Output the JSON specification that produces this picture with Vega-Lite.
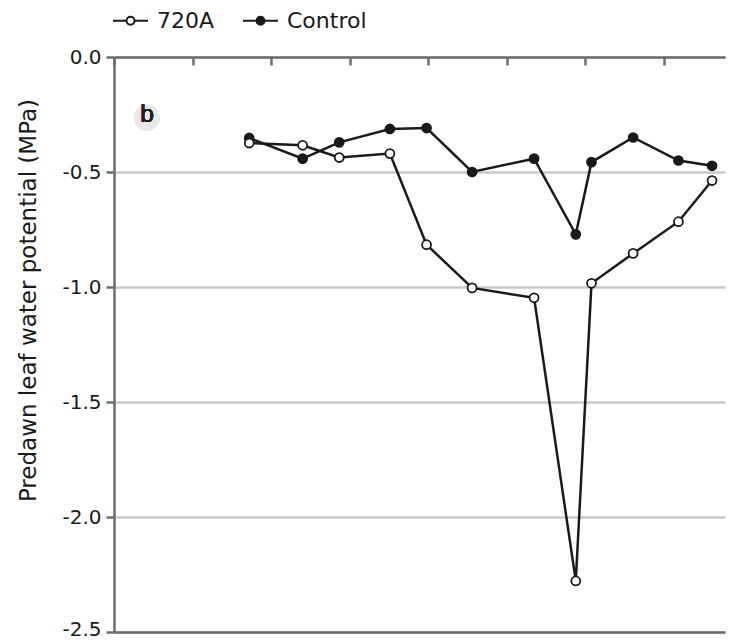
{
  "$schema": "https://vega.github.io/schema/vega-lite/v6.json",
  "width": 611,
  "height": 575,
  "autosize": "none",
  "padding": {"left": 114, "top": 57, "right": 8, "bottom": 9},
  "background": "white",
  "config": {
    "view": {"stroke": null},
    "font": "DejaVu Sans",
    "axis": {"labelFont": "DejaVu Sans", "titleFont": "DejaVu Sans"},
    "legend": {"labelFont": "DejaVu Sans"}
  },
  "data": {
    "values": [
      {"t": 1.722, "psi": -0.352, "series": "Control"},
      {"t": 2.402, "psi": -0.442, "series": "Control"},
      {"t": 2.868, "psi": -0.371, "series": "Control"},
      {"t": 3.513, "psi": -0.313, "series": "Control"},
      {"t": 3.980, "psi": -0.309, "series": "Control"},
      {"t": 4.560, "psi": -0.500, "series": "Control"},
      {"t": 5.349, "psi": -0.442, "series": "Control"},
      {"t": 5.880, "psi": -0.771, "series": "Control"},
      {"t": 6.080, "psi": -0.457, "series": "Control"},
      {"t": 6.610, "psi": -0.350, "series": "Control"},
      {"t": 7.187, "psi": -0.450, "series": "Control"},
      {"t": 7.615, "psi": -0.473, "series": "Control"},
      {"t": 1.722, "psi": -0.374, "series": "720A"},
      {"t": 2.402, "psi": -0.384, "series": "720A"},
      {"t": 2.868, "psi": -0.437, "series": "720A"},
      {"t": 3.513, "psi": -0.420, "series": "720A"},
      {"t": 3.980, "psi": -0.816, "series": "720A"},
      {"t": 4.560, "psi": -1.004, "series": "720A"},
      {"t": 5.349, "psi": -1.047, "series": "720A"},
      {"t": 5.880, "psi": -2.278, "series": "720A"},
      {"t": 6.080, "psi": -0.984, "series": "720A"},
      {"t": 6.610, "psi": -0.854, "series": "720A"},
      {"t": 7.187, "psi": -0.716, "series": "720A"},
      {"t": 7.615, "psi": -0.537, "series": "720A"}
    ]
  },
  "resolve": {"axis": {"x": "independent"}, "scale": {"x": "shared", "y": "shared"}},
  "layer": [
    {
      "mark": {"type": "line", "color": "#1a1a1a", "strokeWidth": 2.5},
      "encoding": {
        "x": {
          "field": "t", "type": "quantitative",
          "scale": {"domain": [0, 7.78], "nice": false, "zero": false},
          "axis": {
            "orient": "top", "values": [0, 1, 2, 3, 4, 5, 6, 7], "labels": false, "title": null, "grid": false,
            "domainColor": "#6d6d6d", "domainWidth": 2.5, "tickColor": "#6d6d6d", "tickWidth": 2.5, "tickSize": -8
          }
        },
        "y": {
          "field": "psi", "type": "quantitative",
          "scale": {"domain": [-2.5, 0], "nice": false, "zero": false},
          "axis": {
            "values": [0, -0.5, -1, -1.5, -2, -2.5],
            "labelExpr": "replace(format(datum.value, '.1f'), '\u2212', '-')",
            "labelFontSize": 20, "labelColor": "#1a1a1a", "labelPadding": 5,
            "labelOffset": {"condition": {"test": "datum.value <= -2.4", "value": -3}, "value": 0},
            "tickSize": 8, "tickColor": "#6d6d6d", "tickWidth": 2.5,
            "domainColor": "#6d6d6d", "domainWidth": 2.5,
            "grid": true, "gridColor": "#c8c8c8", "gridWidth": 2.5,
            "title": "Predawn leaf water potential (MPa)",
            "titleFontSize": 23, "titleFontWeight": "normal", "titleColor": "#1a1a1a",
            "titleX": -86, "titleY": 243, "titleAlign": "center", "titleAngle": -90, "titleBaseline": "middle"
          }
        },
        "detail": {"field": "series"}
      }
    },
    {
      "mark": {"type": "point", "filled": false, "stroke": "#1a1a1a", "strokeWidth": 1.8, "opacity": 1, "size": 80},
      "encoding": {
        "x": {
          "field": "t", "type": "quantitative",
          "axis": {
            "orient": "bottom", "ticks": false, "labels": false, "title": null, "grid": false,
            "domainColor": "#6d6d6d", "domainWidth": 2.5
          }
        },
        "y": {"field": "psi", "type": "quantitative"},
        "fill": {
          "field": "series", "type": "nominal",
          "scale": {"domain": ["720A", "Control"], "range": ["white", "#1a1a1a"]},
          "legend": {
            "orient": "none", "legendX": -2, "legendY": -55, "direction": "horizontal",
            "title": null,
            "symbolType": "M-1,0H-0.23M0.23,0H1M0.23,0A0.23,0.23 0 1,1 -0.23,0A0.23,0.23 0 1,1 0.23,0Z",
            "symbolSize": 1225, "symbolStrokeColor": "#1a1a1a", "symbolStrokeWidth": 2,
            "labelFontSize": 22, "labelColor": "#1a1a1a", "labelOffset": 8, "columnPadding": 24
          }
        }
      }
    },
    {
      "mark": {"type": "circle", "color": "#e8e8e8", "size": 650, "opacity": 1},
      "encoding": {"x": {"datum": 0.42, "type": "quantitative", "axis": null}, "y": {"datum": -0.264, "type": "quantitative"}}
    },
    {
      "mark": {"type": "text", "text": "b", "font": "Open Sans", "fontSize": 23, "fontWeight": "normal", "color": "#222222", "baseline": "middle", "align": "center", "dy": -3},
      "encoding": {"x": {"datum": 0.42, "type": "quantitative", "axis": null}, "y": {"datum": -0.264, "type": "quantitative"}}
    }
  ]
}
